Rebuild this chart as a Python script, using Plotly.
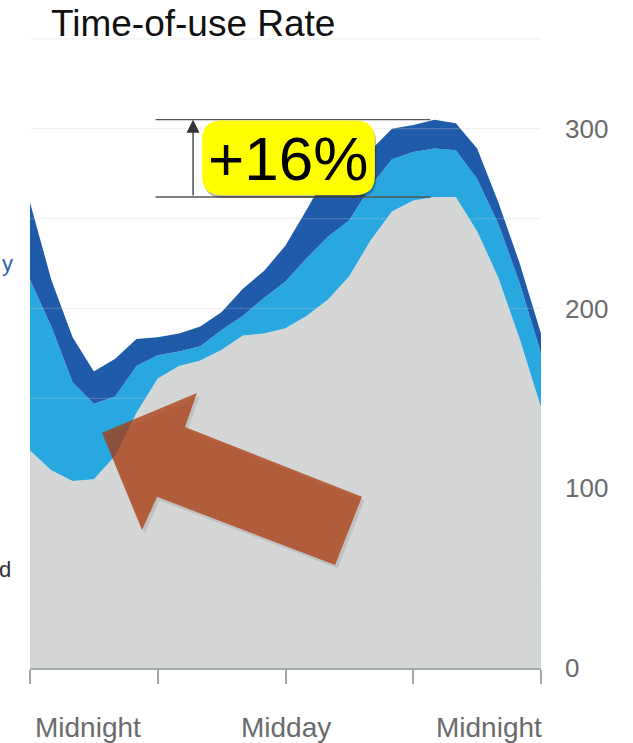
import plotly.graph_objects as go

# Hourly demand profile over one day (0 = midnight, 12 = midday, 24 = midnight)
hours = list(range(25))
base_demand = [121, 110, 104, 105, 118, 142, 161, 168, 171, 177, 185, 186, 189,
               196, 205, 218, 238, 254, 260, 262, 262, 243, 217, 183, 145]
middle_top = [216, 190, 159, 147, 151, 168, 174, 176, 179, 188, 196, 206, 215,
              228, 240, 249, 268, 283, 287, 289, 288, 272, 247, 214, 175]
total_demand = [259, 216, 184, 165, 172, 183, 184, 186, 190, 198, 211, 221, 235,
                255, 276, 281, 288, 300, 302, 305, 303, 289, 259, 225, 186]

x_tick_hours = [0, 6, 12, 18, 24]
x_label_hours = [0, 12, 24]
x_label_text = ["Midnight", "Midday", "Midnight"]
y_tick_values = [0, 100, 200, 300]
grid_levels = [50, 100, 150, 200, 250, 300, 350]

GRAY = "#d4d7d6"
LIGHT_BLUE = "#29a8e0"
DARK_BLUE = "#1f5ba9"
LABEL_GRAY = "#6b6b6b"
FONT = "Liberation Sans, Arial, sans-serif"

W, H = 633, 743
M_L, M_R, M_T, M_B = 30, 92, 37, 75
Y_MAX = 351

fig = go.Figure()
fig.add_trace(go.Scatter(x=hours, y=base_demand, mode="lines", fill="tozeroy",
                         fillcolor=GRAY, line=dict(width=0, color=GRAY),
                         hoverinfo="skip", showlegend=False))
fig.add_trace(go.Scatter(x=hours, y=middle_top, mode="lines", fill="tonexty",
                         fillcolor=LIGHT_BLUE, line=dict(width=0, color=LIGHT_BLUE),
                         hoverinfo="skip", showlegend=False))
fig.add_trace(go.Scatter(x=hours, y=total_demand, mode="lines", fill="tonexty",
                         fillcolor=DARK_BLUE, line=dict(width=0, color=DARK_BLUE),
                         hoverinfo="skip", showlegend=False))

shapes = []

# faint horizontal guides drawn over the areas
for g in grid_levels:
    shapes.append(dict(type="line", xref="x", yref="y", x0=0, x1=24, y0=g, y1=g,
                       line=dict(color="rgba(200,200,200,0.26)", width=1.2), layer="above"))

# thin edges on the sides of the base area
shapes.append(dict(type="line", xref="x", yref="y", x0=0, x1=0, y0=0, y1=base_demand[0],
                   line=dict(color="#c6d3d9", width=1.5), layer="above"))
shapes.append(dict(type="line", xref="x", yref="y", x0=24, x1=24, y0=0, y1=base_demand[-1],
                   line=dict(color="#c6d3d9", width=1.5), layer="above"))

# peak comparison bracket
peak_base = max(base_demand)
peak_total = max(total_demand)
peak_hour = hours[total_demand.index(peak_total)]
bracket_start = 5.9
for level in (peak_base, peak_total):
    shapes.append(dict(type="line", xref="x", yref="y", x0=bracket_start, x1=peak_hour - 0.2,
                       y0=level, y1=level, line=dict(color="#555555", width=1.3), layer="above"))


def rounded_rect(x0, x1, y0, y1, rx, ry):
    return (f"M {x0 + rx},{y0} L {x1 - rx},{y0} Q {x1},{y0} {x1},{y0 + ry} "
            f"L {x1},{y1 - ry} Q {x1},{y1} {x1 - rx},{y1} L {x0 + rx},{y1} "
            f"Q {x0},{y1} {x0},{y1 - ry} L {x0},{y0 + ry} Q {x0},{y0} {x0 + rx},{y0} Z")


box_x0, box_x1 = 8.08, 16.2
box_y0, box_y1 = peak_base + 1, peak_total - 0.5
shapes.append(dict(type="path", xref="x", yref="y",
                   path=rounded_rect(box_x0 + 0.06, box_x1 + 0.06, box_y0 - 1.4, box_y1 - 1.4, 0.95, 11),
                   fillcolor="rgba(0,0,0,0.28)", line=dict(width=0), layer="above"))
shapes.append(dict(type="path", xref="x", yref="y",
                   path=rounded_rect(box_x0, box_x1, box_y0, box_y1, 0.95, 11),
                   fillcolor="#ffff00", line=dict(width=0), layer="above"))

# large block arrow pointing at the overnight trough
block_arrow = [(3.38, 130.8), (7.84, 153.0), (7.28, 134.1), (15.59, 95.2),
               (14.33, 57.3), (5.97, 95.2), (5.26, 76.8)]


def poly_path(points, dx=0.0, dy=0.0):
    head = "M {},{}".format(points[0][0] + dx, points[0][1] + dy)
    rest = " ".join("L {},{}".format(px + dx, py + dy) for px, py in points[1:])
    return head + " " + rest + " Z"


shapes.append(dict(type="path", xref="x", yref="y", path=poly_path(block_arrow, 0.12, -2.0),
                   fillcolor="rgba(60,40,30,0.12)", line=dict(width=0), layer="above"))
shapes.append(dict(type="path", xref="x", yref="y", path=poly_path(block_arrow),
                   fillcolor="rgba(172,56,12,0.74)", line=dict(width=0), layer="above"))

annotations = []
# title
annotations.append(dict(text="Time-of-use Rate", xref="paper", yref="paper",
                        x=(49 - M_L) / (W - M_L - M_R), y=1 + (M_T - 24) / (H - M_T - M_B),
                        xanchor="left", yanchor="middle", showarrow=False,
                        font=dict(family=FONT, size=37, color="#111111")))
# percentage increase label
pct = round((peak_total / peak_base - 1) * 100)
annotations.append(dict(text=f"+{pct}%", xref="x", yref="y",
                        x=(box_x0 + box_x1) / 2, y=(peak_base + peak_total) / 2,
                        xanchor="center", yanchor="middle", showarrow=False,
                        font=dict(family=FONT, size=62, color="#000000")))
# vertical arrow between the two peaks
annotations.append(dict(text="", xref="x", yref="y", x=7.66, y=peak_total,
                        axref="x", ayref="y", ax=7.66, ay=peak_base,
                        showarrow=True, arrowhead=2, arrowsize=2, arrowwidth=1.3,
                        arrowcolor="#333333"))
# time-of-day labels
anchors = ["left", "center", "right"]
for h, txt, anc in zip(x_label_hours, x_label_text, anchors):
    shift = 3 if anc == "left" else (3 if anc == "right" else 0)
    annotations.append(dict(text=txt, xref="x", yref="paper", x=h, xshift=shift,
                            y=-(727 - (H - M_B)) / (H - M_T - M_B),
                            xanchor=anc, yanchor="middle", showarrow=False,
                            font=dict(family=FONT, size=28, color=LABEL_GRAY)))
# side labels at the left edge
annotations.append(dict(text="y", xref="paper", yref="paper",
                        x=(0 - M_L) / (W - M_L - M_R), y=(H - M_B - 263) / (H - M_T - M_B),
                        xanchor="left", yanchor="middle", showarrow=False,
                        font=dict(family=FONT, size=22, color="#2a62ad")))
annotations.append(dict(text="d", xref="paper", yref="paper",
                        x=(13 - M_L) / (W - M_L - M_R), y=(H - M_B - 569) / (H - M_T - M_B),
                        xanchor="right", yanchor="middle", showarrow=False,
                        font=dict(family=FONT, size=22, color="#333333")))

fig.update_layout(
    width=W, height=H,
    margin=dict(l=M_L, r=M_R, t=M_T, b=M_B, autoexpand=False),
    paper_bgcolor="white", plot_bgcolor="white",
    shapes=shapes, annotations=annotations,
    xaxis=dict(range=[0, 24], tickvals=x_tick_hours, showticklabels=False,
               ticks="outside", ticklen=14, tickwidth=1.5, tickcolor="#a3a9ab",
               showline=True, linecolor="#a3a9ab", linewidth=1.5,
               showgrid=False, zeroline=False, fixedrange=True),
    yaxis=dict(range=[0, Y_MAX], side="right", tickvals=y_tick_values,
               ticks="", showgrid=False, zeroline=False, showline=False,
               ticklabelstandoff=23,
               tickfont=dict(family=FONT, size=26, color=LABEL_GRAY), fixedrange=True),
    hovermode=False,
)

fig.write_html("out.html")
